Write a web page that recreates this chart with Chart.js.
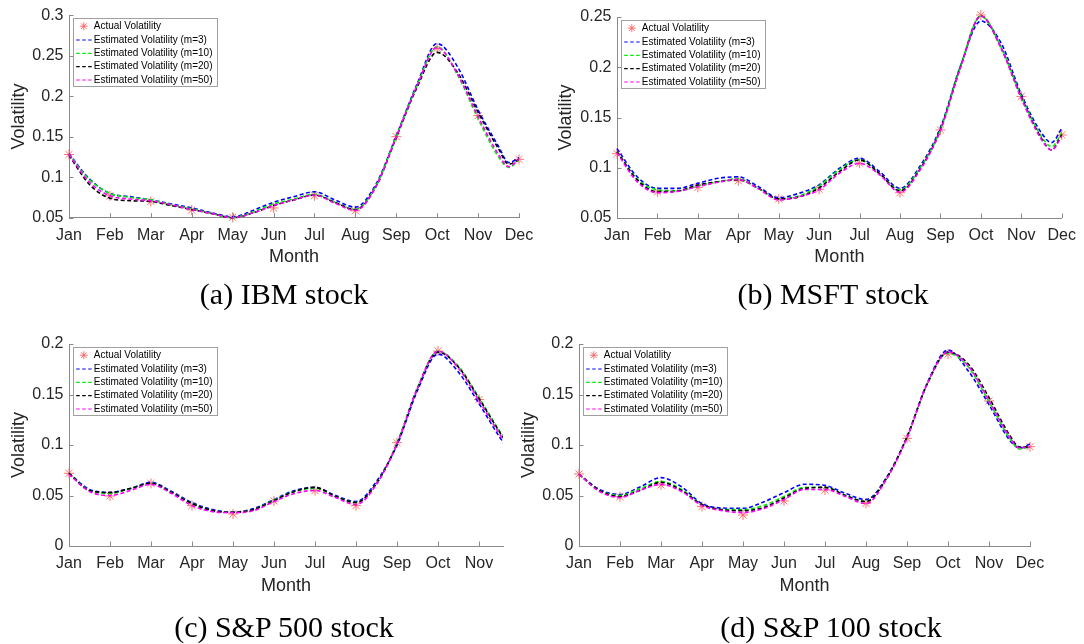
<!DOCTYPE html>
<html><head><meta charset="utf-8">
<script src="https://cdn.jsdelivr.net/npm/chart.js@4.4.1/dist/chart.umd.min.js"></script>
<style>
html,body{margin:0;padding:0;background:#fff;width:1084px;height:644px;overflow:hidden;}
.panel{position:absolute;}
.cap{position:absolute;font-family:"Liberation Serif","Times New Roman",serif;font-size:30px;color:#000;white-space:nowrap;transform:translate(-50%,-50%);line-height:1;}
</style></head><body>
<div class="panel" style="left:0px;top:0px"><canvas id="cA" width="545" height="272"></canvas></div>
<div class="panel" style="left:545px;top:0px"><canvas id="cB" width="539" height="272"></canvas></div>
<div class="panel" style="left:0px;top:300px"><canvas id="cC" width="545" height="320"></canvas></div>
<div class="panel" style="left:510px;top:300px"><canvas id="cD" width="574" height="320"></canvas></div>
<div class="cap" style="left:284px;top:294px">(a) IBM stock</div>
<div class="cap" style="left:833px;top:294px">(b) MSFT stock</div>
<div class="cap" style="left:284px;top:627px">(c) S&amp;P 500 stock</div>
<div class="cap" style="left:831px;top:627px">(d) S&amp;P 100 stock</div>
<script>
// ---- categories ----
const months = ['Jan','Feb','Mar','Apr','May','Jun','Jul','Aug','Sep','Oct','Nov','Dec'];
const monthIdx = [1,2,3,4,5,6,7,8,9,10,11,12];
// x positions (in months) at which the estimated curves were read
const curveX = [1,1.5,2,2.5,3,3.5,4,4.5,5,5.5,6,6.5,7,7.5,8,8.5,9,9.5,10,10.5,11,11.5,11.75,12];
const seriesNames = ['Actual Volatility','Estimated Volatility (m=3)','Estimated Volatility (m=10)','Estimated Volatility (m=20)','Estimated Volatility (m=50)'];

// ---- (a) IBM ----
const ibmActual = [0.128,0.077,0.070,0.0595,0.0505,0.062,0.077,0.0585,0.150,0.259,0.176,0.122];
const ibmM3  = [0.129,0.098,0.080,0.076,0.072,0.067,0.062,0.056,0.051,0.059,0.069,0.076,0.082,0.072,0.063,0.091,0.151,0.214,0.265,0.236,0.183,0.138,0.118,0.124];
const ibmM10 = [0.128,0.097,0.080,0.075,0.072,0.066,0.061,0.055,0.050,0.057,0.067,0.073,0.079,0.069,0.060,0.089,0.150,0.212,0.261,0.226,0.172,0.125,0.112,0.121];
const ibmM20 = [0.127,0.091,0.074,0.071,0.070,0.065,0.060,0.055,0.050,0.056,0.065,0.072,0.078,0.069,0.060,0.088,0.149,0.210,0.254,0.229,0.180,0.135,0.116,0.122];
const ibmM50 = [0.128,0.094,0.077,0.073,0.071,0.066,0.060,0.055,0.050,0.056,0.065,0.072,0.078,0.068,0.059,0.088,0.150,0.212,0.260,0.227,0.175,0.128,0.113,0.122];
const ibmYTicks = [0.05,0.1,0.15,0.2,0.25,0.3];
const ibmYLabels = ['0.05','0.1','0.15','0.2','0.25','0.3'];

// ---- (b) MSFT ----
const msftActual = [0.114,0.076,0.0805,0.087,0.069,0.0786,0.1045,0.0752,0.1376,0.252,0.171,0.1326];
const msftM3  = [0.119,0.091,0.0795,0.0795,0.0845,0.0895,0.091,0.0812,0.0702,0.0746,0.083,0.0994,0.1094,0.096,0.0795,0.102,0.140,0.202,0.246,0.224,0.173,0.1345,0.125,0.139];
const msftM10 = [0.116,0.089,0.078,0.077,0.082,0.086,0.089,0.0795,0.069,0.072,0.082,0.098,0.108,0.094,0.078,0.100,0.138,0.201,0.251,0.220,0.171,0.131,0.121,0.135];
const msftM20 = [0.116,0.088,0.0762,0.0769,0.0828,0.0861,0.088,0.0795,0.069,0.071,0.080,0.096,0.1077,0.094,0.077,0.099,0.138,0.201,0.251,0.219,0.170,0.129,0.1177,0.133];
const msftM50 = [0.115,0.086,0.0752,0.0765,0.0812,0.0855,0.0885,0.079,0.068,0.0712,0.078,0.0945,0.1044,0.0928,0.0756,0.098,0.137,0.200,0.251,0.219,0.169,0.128,0.1177,0.131];
const msftYTicks = [0.05,0.1,0.15,0.2,0.25];
const msftYLabels = ['0.05','0.1','0.15','0.2','0.25'];

// ---- (c) S&P 500 ----
const sp500Actual = [0.072,0.0495,0.062,0.040,0.0317,0.0446,0.0548,0.040,0.1023,0.193,0.145];
const sp500M3  = [0.072,0.056,0.053,0.057,0.063,0.054,0.043,0.036,0.0335,0.037,0.046,0.055,0.058,0.050,0.044,0.064,0.100,0.154,0.190,0.172,0.141,0.108,0.094,0.085];
const sp500M10 = [0.072,0.055,0.052,0.057,0.062,0.053,0.042,0.035,0.0334,0.036,0.0455,0.054,0.057,0.049,0.043,0.062,0.102,0.157,0.193,0.178,0.147,0.114,0.099,0.089];
const sp500M20 = [0.072,0.055,0.053,0.057,0.062,0.053,0.042,0.035,0.0334,0.036,0.045,0.054,0.058,0.049,0.043,0.062,0.101,0.156,0.192,0.177,0.146,0.113,0.098,0.088];
const sp500M50 = [0.071,0.054,0.050,0.055,0.061,0.052,0.040,0.034,0.033,0.035,0.044,0.052,0.055,0.048,0.041,0.061,0.101,0.156,0.193,0.176,0.144,0.111,0.096,0.087];
const sp500YTicks = [0,0.05,0.1,0.15,0.2];
const sp500YLabels = ['0','0.05','0.1','0.15','0.2'];
const sp500XMax = 11.585;

// ---- (d) S&P 100 ----
const sp100Actual = [0.0713,0.0488,0.0604,0.039,0.0307,0.0446,0.0554,0.0422,0.1066,0.190,0.1436,0.0983];
const sp100M3  = [0.071,0.056,0.051,0.0587,0.0677,0.0587,0.042,0.0376,0.0373,0.0436,0.0528,0.0611,0.060,0.052,0.046,0.068,0.108,0.162,0.194,0.173,0.140,0.105,0.097,0.101];
const sp100M10 = [0.071,0.055,0.050,0.057,0.064,0.056,0.041,0.036,0.036,0.040,0.049,0.058,0.058,0.050,0.044,0.067,0.108,0.161,0.191,0.177,0.143,0.107,0.096,0.098];
const sp100M20 = [0.071,0.055,0.049,0.0554,0.063,0.055,0.041,0.036,0.035,0.038,0.0475,0.0571,0.058,0.050,0.044,0.067,0.108,0.161,0.192,0.180,0.147,0.110,0.098,0.098];
const sp100M50 = [0.071,0.054,0.048,0.0554,0.061,0.054,0.040,0.035,0.033,0.037,0.046,0.056,0.056,0.049,0.042,0.066,0.107,0.161,0.192,0.178,0.144,0.108,0.097,0.098];
const sp100YTicks = [0,0.05,0.1,0.15,0.2];
const sp100YLabels = ['0','0.05','0.1','0.15','0.2'];

// ---- styles ----
const lineColors = ['#0000ff','#00ee00','#000000','#ff00ff'];
const starColor = 'rgba(255,90,90,0.85)';
const axisColor = '#8a8a8a';
const textColor = '#262626';
const FONT = '"Liberation Sans", Arial, Helvetica, sans-serif';

function drawStar(ctx, x, y, r) {
  ctx.beginPath();
  for (let k = 0; k < 4; k++) {
    const a = k * Math.PI / 4;
    ctx.moveTo(x - r * Math.cos(a), y - r * Math.sin(a));
    ctx.lineTo(x + r * Math.cos(a), y + r * Math.sin(a));
  }
  ctx.stroke();
}

const legendPlugin = {
  id: 'insideLegend',
  afterDraw(chart) {
    const {ctx, chartArea: a} = chart;
    const bx = Math.round(a.left + 4) + 0.5, by = Math.round(a.top + 3) + 0.5, bw = 144, bh = 68;
    ctx.save();
    ctx.fillStyle = '#fff';
    ctx.fillRect(bx, by, bw, bh);
    ctx.strokeStyle = '#a0a0a0';
    ctx.lineWidth = 1;
    ctx.strokeRect(bx, by, bw, bh);
    ctx.font = '10px ' + FONT;
    ctx.textBaseline = 'middle';
    ctx.textAlign = 'left';
    const rows = [7.7, 21.5, 34.8, 48.2, 61.5];
    seriesNames.forEach((name, i) => {
      const y = by + rows[i];
      if (i === 0) {
        ctx.strokeStyle = starColor; ctx.lineWidth = 1;
        drawStar(ctx, bx + 10.3, y, 4);
      } else {
        ctx.strokeStyle = lineColors[i - 1]; ctx.lineWidth = 1.2;
        ctx.setLineDash([3.5, 2.5]);
        ctx.beginPath(); ctx.moveTo(bx + 2.7, y); ctx.lineTo(bx + 19.5, y); ctx.stroke();
        ctx.setLineDash([]);
      }
      ctx.fillStyle = '#000';
      ctx.fillText(name, bx + 20.3, y);
    });
    ctx.restore();
  }
};

const tickPlugin = {
  id: 'inTicks',
  afterDatasetsDraw(chart) {
    const {ctx, scales: {x, y}, chartArea: a} = chart;
    ctx.save();
    ctx.strokeStyle = axisColor; ctx.lineWidth = 1;
    ctx.beginPath();
    x.ticks.forEach(t => { const px = Math.round(x.getPixelForValue(t.value)) + 0.5; ctx.moveTo(px, a.bottom); ctx.lineTo(px, a.bottom - 4.5); });
    y.ticks.forEach(t => { const py = Math.round(y.getPixelForValue(t.value)) + 0.5; ctx.moveTo(a.left, py); ctx.lineTo(a.left + 4.5, py); });
    ctx.stroke();
    ctx.restore();
  }
};

function makeChart(id, p) {
  const datasets = [];
  datasets.push({
    label: seriesNames[0],
    data: p.actual.map((v, i) => ({x: monthIdx[i], y: v})),
    showLine: false, pointStyle: 'star', pointRadius: 5,
    pointBorderColor: starColor, pointBackgroundColor: starColor, pointBorderWidth: 1,
    order: 10, clip: false
  });
  p.curves.forEach((c, k) => datasets.push({
    label: seriesNames[k + 1],
    data: c.map((v, i) => ({x: curveX[i], y: v})),
    borderColor: lineColors[k], borderWidth: 1.6, borderDash: [4, 2.5],
    pointRadius: 0, cubicInterpolationMode: 'monotone', fill: false,
    order: 4 - k, clip: {left: 2, right: 0, top: 2, bottom: 2}
  }));
  const nX = p.nXTicks;
  return new Chart(document.getElementById(id), {
    type: 'line',
    data: {datasets},
    options: {
      responsive: false, animation: false, events: [],
      layout: {padding: p.pad},
      plugins: {legend: {display: false}, tooltip: {enabled: false}},
      scales: {
        x: {
          type: 'linear', min: 1, max: p.xMax,
          grid: {display: false, drawTicks: false},
          border: {display: true, color: axisColor, width: 1},
          afterBuildTicks: s => { s.ticks = monthIdx.slice(0, nX).map(v => ({value: v})); },
          ticks: {callback: v => months[v - 1], font: {family: FONT, size: 16}, color: textColor, padding: 8, maxRotation: 0, autoSkip: false},
          title: {display: true, text: 'Month', font: {family: FONT, size: 18}, color: textColor, padding: {top: 0, bottom: 0}},
          afterFit: s => { s.height = p.xH; }
        },
        y: {
          type: 'linear', min: p.yTicks[0], max: p.yTicks[p.yTicks.length - 1],
          grid: {display: false, drawTicks: false},
          border: {display: true, color: axisColor, width: 1},
          afterBuildTicks: s => { s.ticks = p.yTicks.map(v => ({value: v})); },
          ticks: {callback: (v, i) => p.yLabels[i], font: {family: FONT, size: 16}, color: textColor, padding: 5.5, autoSkip: false},
          title: {display: true, text: 'Volatility', font: {family: FONT, size: 18}, color: textColor, padding: {top: p.yTitlePad, bottom: 0}},
          afterFit: s => { s.width = p.yW; }
        }
      }
    },
    plugins: [tickPlugin, legendPlugin]
  });
}

makeChart('cA', {actual: ibmActual, curves: [ibmM3, ibmM10, ibmM20, ibmM50], yTicks: ibmYTicks, yLabels: ibmYLabels,
  xMax: 12, nXTicks: 12, pad: {left: 0, top: 15, right: 26, bottom: 4.3}, yW: 69, xH: 50, yTitlePad: 8.2});
makeChart('cB', {actual: msftActual, curves: [msftM3, msftM10, msftM20, msftM50], yTicks: msftYTicks, yLabels: msftYLabels,
  xMax: 12, nXTicks: 12, pad: {left: 0, top: 17, right: 17, bottom: 4}, yW: 72, xH: 50, yTitlePad: 10.2});
makeChart('cC', {actual: sp500Actual, curves: [sp500M3, sp500M10, sp500M20, sp500M50], yTicks: sp500YTicks, yLabels: sp500YLabels,
  xMax: sp500XMax, nXTicks: 11, pad: {left: 0, top: 44, right: 42, bottom: 23}, yW: 69, xH: 51, yTitlePad: 8.2});
makeChart('cD', {actual: sp100Actual, curves: [sp100M3, sp100M10, sp100M20, sp100M50], yTicks: sp100YTicks, yLabels: sp100YLabels,
  xMax: 12, nXTicks: 12, pad: {left: 0, top: 44, right: 54, bottom: 23}, yW: 69, xH: 51, yTitlePad: 8.2});
</script>
</body></html>
